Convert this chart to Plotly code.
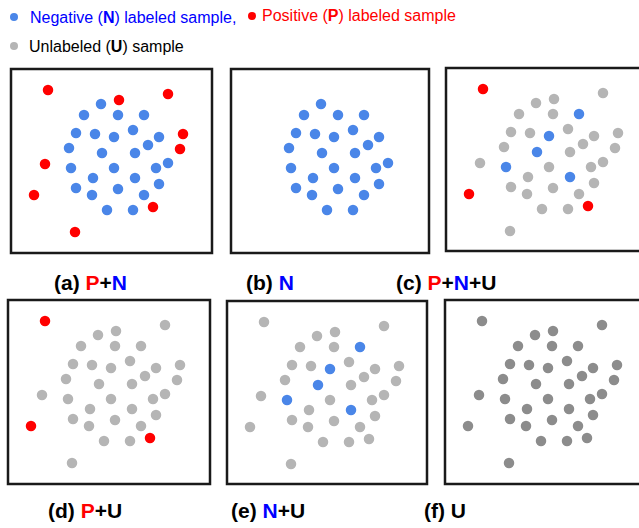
import plotly.graph_objects as go

# PU-learning sketch: six panels sharing one point cloud
# point positions are in pixels from the top-left corner of each frame

# positive (P) samples
p_x = [37, 108, 157, 172, 169, 34, 23, 142, 64]
p_y = [21, 31, 25, 65, 80, 95, 126, 138, 163]

# negative (N) samples
n_x = [90, 73, 107, 133, 65, 84, 103, 122, 148, 137, 58, 91, 124,
       60, 103, 145, 157, 82, 124, 148, 65, 81, 107, 133, 96, 122]
n_y = [35, 46, 46, 46, 64, 65, 68, 61, 68, 76, 79, 84, 84,
       99, 99, 99, 94, 109, 109, 115, 119, 126, 120, 126, 141, 141]

# which samples keep their label once most of the data is unlabeled
p_kept = [0, 6, 7]
n_kept = [3, 6, 11, 13, 18]

captions = ['(a) {P}+{N}', '(b) {N}', '(c) {P}+{N}+U',
            '(d) {P}+U', '(e) {N}+U', '(f) U']

BLUE = '#4a86e8'
RED = '#ff0000'
GRAY = '#b5b5b5'
DARK = '#8c8c8c'
TXT_BLUE = '#0000ff'

W, H = 639, 528

# frame boxes in pixels: left, right, top, bottom
frames = [(11, 212, 69, 253), (231, 429, 69, 253), (446, 646, 68, 251),
          (8, 210, 300, 484), (227, 427, 301, 484), (445, 646, 300, 484)]
cap_pos = [(90, 282), (270, 282), (446, 282), (85, 510), (268, 510), (445, 510)]


def pick(xs, ys, idx):
    return [xs[i] for i in idx], [ys[i] for i in idx]


def rest(xs, ys, idx):
    keep = [i for i in range(len(xs)) if i not in idx]
    return pick(xs, ys, keep)


all_x = p_x + n_x
all_y = p_y + n_y
u_idx = p_kept + [len(p_x) + i for i in n_kept]

# per panel: list of (x, y, colour)
panels = [
    [(p_x, p_y, RED), (n_x, n_y, BLUE)],
    [(n_x, n_y, BLUE)],
    [(*rest(all_x, all_y, u_idx), GRAY), (*pick(p_x, p_y, p_kept), RED),
     (*pick(n_x, n_y, n_kept), BLUE)],
    [(*rest(all_x, all_y, p_kept), GRAY), (*pick(p_x, p_y, p_kept), RED)],
    [(*rest(all_x, all_y, [len(p_x) + i for i in n_kept]), GRAY),
     (*pick(n_x, n_y, n_kept), BLUE)],
    [(all_x, all_y, DARK)],
]

fig = go.Figure()
layout = dict(width=W, height=H, margin=dict(l=0, r=0, t=0, b=0),
              paper_bgcolor='white', plot_bgcolor='white', showlegend=False,
              font=dict(family='Liberation Sans, Arial, sans-serif'))
shapes = []
annotations = []

for k, (frame, groups) in enumerate(zip(frames, panels)):
    n = '' if k == 0 else str(k + 1)
    left, right, top, bottom = frame
    r_vis = min(right, W)
    layout['xaxis' + n] = dict(domain=[left / W, r_vis / W], range=[0, r_vis - left],
                               visible=False, fixedrange=True)
    layout['yaxis' + n] = dict(domain=[1 - bottom / H, 1 - top / H], range=[bottom - top, 0],
                               visible=False, fixedrange=True)
    for gx, gy, col in groups:
        fig.add_trace(go.Scatter(x=gx, y=gy, mode='markers', xaxis='x' + n, yaxis='y' + n,
                                 marker=dict(size=10.5, color=col, line=dict(width=0)),
                                 hoverinfo='skip'))
    shapes.append(dict(type='rect', xref='paper', yref='paper',
                       x0=left / W, x1=right / W, y0=1 - bottom / H, y1=1 - top / H,
                       line=dict(color='#1a1a1a', width=2.5)))
    cx, cy = cap_pos[k]
    txt = captions[k].format(P="<span style='color:%s'>P</span>" % RED,
                             N="<span style='color:%s'>N</span>" % TXT_BLUE)
    annotations.append(dict(x=cx / W, y=1 - cy / H, xref='paper', yref='paper',
                            text='<b>' + txt + '</b>', showarrow=False,
                            xanchor='center', yanchor='middle',
                            font=dict(size=21, color='black')))

# legend at the top
legend_rows = [
    (14, 17, BLUE, 28, "Negative (<b>N</b>) labeled sample,", TXT_BLUE),
    (252, 16, RED, 260, "Positive (<b>P</b>) labeled sample", RED),
    (14, 46, GRAY, 27, "Unlabeled (<b>U</b>) sample", 'black'),
]
for dx, dy, dcol, tx, text, tcol in legend_rows:
    shapes.append(dict(type='circle', xref='paper', yref='paper',
                       x0=(dx - 4) / W, x1=(dx + 4) / W, y0=1 - (dy + 4) / H, y1=1 - (dy - 4) / H,
                       fillcolor=dcol, line=dict(width=0)))
    annotations.append(dict(x=tx / W, y=1 - dy / H, xref='paper', yref='paper', text=text,
                            showarrow=False, xanchor='left', yanchor='middle',
                            font=dict(size=16, color=tcol)))

layout['shapes'] = shapes
layout['annotations'] = annotations
fig.update_layout(**layout)

# drop the browser's default body margin so the figure fills the window
fig.write_html('out.html', config={'displayModeBar': False},
               post_script="document.body.style.margin='0';"
                           "document.body.style.overflow='hidden';")
